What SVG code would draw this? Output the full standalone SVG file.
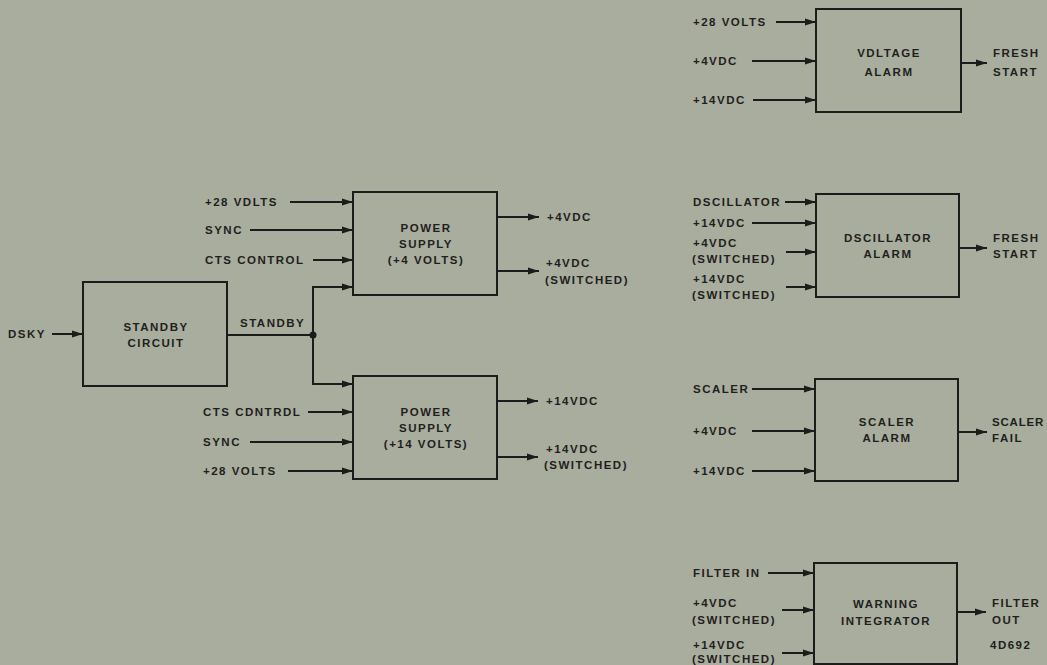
<svg xmlns="http://www.w3.org/2000/svg" width="1047" height="665" viewBox="0 0 1047 665">
<style>
.bg{fill:#a9ad9d}
.box{fill:none;stroke:#1c1c1a;stroke-width:2}
.ln{fill:none;stroke:#1c1c1a;stroke-width:2}
text{font-family:"Liberation Sans",Arial,sans-serif;font-size:11.5px;letter-spacing:1.5px;fill:#1f1f1d;font-weight:bold}
.c{text-anchor:middle}
.tight{letter-spacing:0.8px}
</style>
<defs>
<marker id="ah" markerUnits="userSpaceOnUse" markerWidth="12" markerHeight="10" refX="11" refY="5" orient="auto">
<path d="M0,1.5 L11,5 L0,8.5 Z" fill="#1c1c1a"/>
</marker>
</defs>
<rect class="bg" x="0" y="0" width="1047" height="665"/>

<g id="connectors">
<line class="ln" x1="52" y1="334" x2="83" y2="334" marker-end="url(#ah)"/>
<polyline class="ln" points="227,335 313,335"/>
<polyline class="ln" points="340,287 313,287 313,384 340,384"/>
<line class="ln" x1="330" y1="287" x2="353" y2="287" marker-end="url(#ah)"/>
<line class="ln" x1="330" y1="384" x2="353" y2="384" marker-end="url(#ah)"/>
<circle cx="313" cy="335" r="3.5" fill="#1c1c1a"/>
<line class="ln" x1="290" y1="202" x2="353" y2="202" marker-end="url(#ah)"/>
<line class="ln" x1="250" y1="230" x2="353" y2="230" marker-end="url(#ah)"/>
<line class="ln" x1="313" y1="260" x2="353" y2="260" marker-end="url(#ah)"/>
<line class="ln" x1="497" y1="217" x2="539" y2="217" marker-end="url(#ah)"/>
<line class="ln" x1="497" y1="271" x2="539" y2="271" marker-end="url(#ah)"/>
<line class="ln" x1="308" y1="412" x2="353" y2="412" marker-end="url(#ah)"/>
<line class="ln" x1="250" y1="442" x2="353" y2="442" marker-end="url(#ah)"/>
<line class="ln" x1="288" y1="471" x2="353" y2="471" marker-end="url(#ah)"/>
<line class="ln" x1="497" y1="401" x2="538" y2="401" marker-end="url(#ah)"/>
<line class="ln" x1="497" y1="457" x2="538" y2="457" marker-end="url(#ah)"/>
<line class="ln" x1="776" y1="22" x2="816" y2="22" marker-end="url(#ah)"/>
<line class="ln" x1="752" y1="61" x2="816" y2="61" marker-end="url(#ah)"/>
<line class="ln" x1="753" y1="100" x2="816" y2="100" marker-end="url(#ah)"/>
<line class="ln" x1="961" y1="63" x2="987" y2="63" marker-end="url(#ah)"/>
<line class="ln" x1="785" y1="202" x2="816" y2="202" marker-end="url(#ah)"/>
<line class="ln" x1="752" y1="223" x2="816" y2="223" marker-end="url(#ah)"/>
<line class="ln" x1="786" y1="252" x2="816" y2="252" marker-end="url(#ah)"/>
<line class="ln" x1="786" y1="287" x2="816" y2="287" marker-end="url(#ah)"/>
<line class="ln" x1="959" y1="248" x2="987" y2="248" marker-end="url(#ah)"/>
<line class="ln" x1="752" y1="389" x2="815" y2="389" marker-end="url(#ah)"/>
<line class="ln" x1="752" y1="431" x2="815" y2="431" marker-end="url(#ah)"/>
<line class="ln" x1="752" y1="471" x2="815" y2="471" marker-end="url(#ah)"/>
<line class="ln" x1="958" y1="432" x2="987" y2="432" marker-end="url(#ah)"/>
<line class="ln" x1="768" y1="573" x2="814" y2="573" marker-end="url(#ah)"/>
<line class="ln" x1="782" y1="610" x2="814" y2="610" marker-end="url(#ah)"/>
<line class="ln" x1="782" y1="653" x2="814" y2="653" marker-end="url(#ah)"/>
<line class="ln" x1="957" y1="612" x2="986" y2="612" marker-end="url(#ah)"/>
</g>

<g id="labels">
<text x="8" y="338">DSKY</text>
<text x="240" y="327">STANDBY</text>
<text x="205" y="206">+28 VDLTS</text>
<text x="205" y="234">SYNC</text>
<text x="205" y="264">CTS CONTROL</text>
<text x="547" y="221">+4VDC</text>
<text x="546" y="267">+4VDC</text>
<text x="545" y="284">(SWITCHED)</text>
<text x="203" y="416">CTS CDNTRDL</text>
<text x="203" y="446">SYNC</text>
<text x="203" y="475">+28 VOLTS</text>
<text x="546" y="405">+14VDC</text>
<text x="546" y="453">+14VDC</text>
<text x="544" y="469">(SWITCHED)</text>
<text x="693" y="26">+28 VOLTS</text>
<text x="693" y="65">+4VDC</text>
<text x="693" y="104">+14VDC</text>
<text x="993" y="57">FRESH</text>
<text x="993" y="76">START</text>
<text x="693" y="206">DSCILLATOR</text>
<text x="693" y="227">+14VDC</text>
<text x="693" y="247">+4VDC</text>
<text x="692" y="263">(SWITCHED)</text>
<text x="693" y="283">+14VDC</text>
<text x="692" y="299">(SWITCHED)</text>
<text x="993" y="242">FRESH</text>
<text x="993" y="258">START</text>
<text x="693" y="393">SCALER</text>
<text x="693" y="435">+4VDC</text>
<text x="693" y="475">+14VDC</text>
<text class="tight" x="992" y="426">SCALER</text>
<text x="992" y="442">FAIL</text>
<text x="693" y="577">FILTER IN</text>
<text x="693" y="607">+4VDC</text>
<text x="692" y="624">(SWITCHED)</text>
<text x="693" y="649">+14VDC</text>
<text x="692" y="663">(SWITCHED)</text>
<text x="992" y="607">FILTER</text>
<text x="992" y="624">OUT</text>
<text x="990" y="649">4D692</text>
</g>

<g id="standby-circuit">
<rect class="box" x="83" y="282" width="144" height="104"/>
<text class="c" x="156" y="331">STANDBY</text>
<text class="c" x="156" y="347">CIRCUIT</text>
</g>

<g id="power-supply-4">
<rect class="box" x="353" y="192" width="144" height="103"/>
<text class="c" x="426" y="232">POWER</text>
<text class="c" x="426" y="248">SUPPLY</text>
<text class="c" x="426" y="264">(+4 VOLTS)</text>
</g>

<g id="power-supply-14">
<rect class="box" x="353" y="376" width="144" height="103"/>
<text class="c" x="426" y="416">POWER</text>
<text class="c" x="426" y="432">SUPPLY</text>
<text class="c" x="426" y="448">(+14 VOLTS)</text>
</g>

<g id="voltage-alarm">
<rect class="box" x="816" y="9" width="145" height="103"/>
<text class="c" x="889" y="57">VDLTAGE</text>
<text class="c" x="889" y="76">ALARM</text>
</g>

<g id="oscillator-alarm">
<rect class="box" x="816" y="194" width="143" height="103"/>
<text class="c" x="888" y="242">DSCILLATOR</text>
<text class="c" x="888" y="258">ALARM</text>
</g>

<g id="scaler-alarm">
<rect class="box" x="815" y="379" width="143" height="102"/>
<text class="c" x="887" y="426">SCALER</text>
<text class="c" x="887" y="442">ALARM</text>
</g>

<g id="warning-integrator">
<rect class="box" x="814" y="563" width="143" height="101"/>
<text class="c" x="886" y="608">WARNING</text>
<text class="c" x="886" y="625">INTEGRATOR</text>
</g>
</svg>
